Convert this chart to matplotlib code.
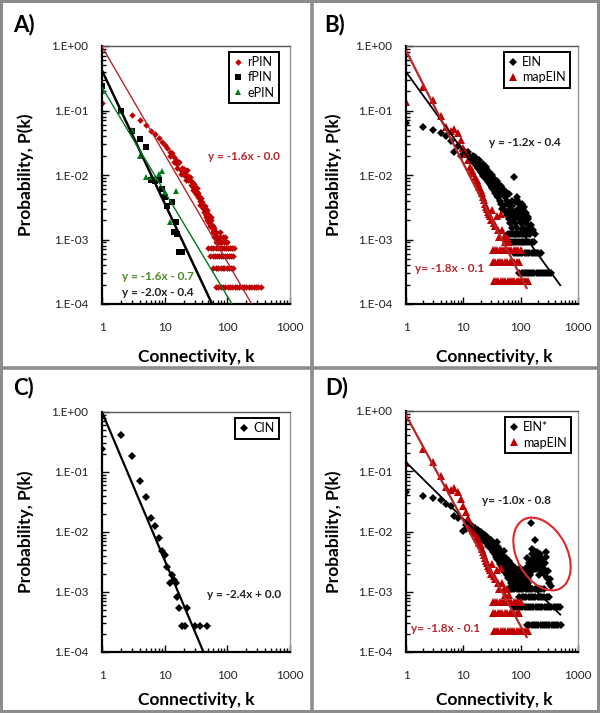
import numpy as np
import matplotlib
matplotlib.use("Agg")
import matplotlib.pyplot as plt
from matplotlib.patches import Ellipse
from matplotlib.lines import Line2D
from matplotlib.transforms import Affine2D
from matplotlib.ticker import FuncFormatter, LogLocator, NullFormatter

plt.rcParams['font.family'] = ['Lato', 'DejaVu Sans']

# ---- panel A : rPIN / fPIN / ePIN ----
k_rpin = [1, 3, 4, 5, 6, 7, 8, 9, 10, 11, 12, 13, 14, 15, 16, 17, 18, 19, 20, 21,
          22, 23, 24, 25, 26, 27, 28, 29, 30, 31, 32, 33, 34, 35, 36, 37, 38, 39, 40, 42,
          43, 44, 46, 47, 48, 50, 52, 53, 55, 57, 58, 60, 62, 64, 66, 68, 70, 72, 75, 78,
          12, 14, 16, 18, 20, 22, 24, 26, 28, 30, 32, 34, 36, 38, 41, 44, 45, 49, 51, 54,
          56, 59, 61, 63, 65, 67, 69, 71, 73, 76, 80, 84, 88, 92, 96, 100,
          50, 55, 60, 65, 70, 76, 82, 88, 95, 103, 110, 118, 128,
          52, 58, 63, 68, 74, 80, 86, 93, 100, 108, 115, 122,
          60, 66, 72, 78, 84, 90, 97, 105, 113, 122,
          66, 72, 79, 86, 93, 101, 110, 120, 131, 143, 156, 170, 185, 202, 220, 240, 262,
          286, 312, 340]
p_rpin = [0.13, 0.085, 0.071, 0.060, 0.048, 0.043, 0.038, 0.033, 0.029, 0.026, 0.023,
          0.022, 0.019, 0.017, 0.015, 0.016, 0.012, 0.013, 0.010, 0.011, 0.0095, 0.012,
          0.0085, 0.0092, 0.0070, 0.0078, 0.0065, 0.0072, 0.0055, 0.0060, 0.0050, 0.0062,
          0.0045, 0.0047, 0.0040, 0.0042, 0.0036, 0.0033, 0.0038, 0.0030, 0.0027, 0.0033,
          0.0024, 0.0029, 0.0020, 0.0025, 0.0018, 0.0016, 0.0020, 0.0015, 0.0013, 0.0016,
          0.0011, 0.0013, 0.00091, 0.0011, 0.00091, 0.00091, 0.0011, 0.00091,
          0.020, 0.016, 0.013, 0.0105, 0.0125, 0.0085, 0.0098, 0.0082, 0.0058, 0.0066,
          0.0056, 0.0052, 0.0034, 0.0044, 0.0031, 0.0027, 0.0022, 0.0023, 0.0018, 0.0022,
          0.0016, 0.0013, 0.0015, 0.0011, 0.0013, 0.0011, 0.00091, 0.0011, 0.00091, 0.0013,
          0.00091, 0.0011, 0.00091, 0.0011, 0.00091, 0.00091,
          0.00073, 0.00073, 0.00073, 0.00073, 0.00073, 0.00073, 0.00073, 0.00073, 0.00073,
          0.00073, 0.00073, 0.00073, 0.00073,
          0.00055, 0.00055, 0.00055, 0.00055, 0.00055, 0.00055, 0.00055, 0.00055, 0.00055,
          0.00055, 0.00055, 0.00055,
          0.00036, 0.00036, 0.00036, 0.00036, 0.00036, 0.00036, 0.00036, 0.00036, 0.00036,
          0.00036,
          0.000182, 0.000182, 0.000182, 0.000182, 0.000182, 0.000182, 0.000182, 0.000182,
          0.000182, 0.000182, 0.000182, 0.000182, 0.000182, 0.000182, 0.000182, 0.000182,
          0.000182, 0.000182, 0.000182, 0.000182]

k_fpin = [1, 2, 3, 4, 5, 6, 7, 8, 9, 10, 11, 13, 14, 15, 16, 17, 19]
p_fpin = [0.24, 0.10, 0.048, 0.036, 0.027, 0.0085, 0.0082, 0.0085, 0.0060, 0.0045,
          0.0033, 0.0038, 0.0013, 0.0019, 0.0012, 0.00063, 0.00063]

k_epin = [1, 2, 3, 4, 5, 6, 7, 8, 9, 10, 12, 15]
p_epin = [0.20, 0.10, 0.049, 0.020, 0.0093, 0.0093, 0.0090, 0.0105, 0.0115, 0.0055,
          0.0019, 0.0056]

# ---- panels B and D : mapEIN (same data in both) ----
k_map = [1, 2, 3, 4, 5, 6, 7, 8, 9, 10, 11, 12, 13, 14, 15, 16, 17, 18, 19, 20, 21, 22,
         23, 24, 25, 26, 27, 28, 29, 30, 32, 34, 36, 38, 40, 42, 45, 48, 51, 54, 58, 62,
         33, 36, 39, 43, 47, 52, 57, 62, 68, 75, 82, 90, 100,
         33, 36, 40, 44, 48, 53, 58, 64, 70, 77, 85, 93,
         34, 37, 41, 45, 49, 54, 59, 65, 71, 78, 86, 94, 103, 113, 124, 136]
p_map = [0.137, 0.23, 0.145, 0.082, 0.055, 0.048, 0.052, 0.045, 0.035, 0.026, 0.021,
         0.017, 0.0135, 0.012, 0.0106, 0.0093, 0.0085, 0.0074, 0.0065, 0.0059, 0.0052,
         0.0045, 0.0041, 0.0036, 0.0032, 0.0030, 0.0027, 0.0025, 0.0023, 0.0020, 0.0029,
         0.0018, 0.0016, 0.0023, 0.0014, 0.0011, 0.0025, 0.0014, 0.0011, 0.0009, 0.0011,
         0.0009,
         0.00068, 0.00068, 0.00068, 0.00068, 0.00068, 0.00068, 0.00068, 0.00068, 0.00068,
         0.00068, 0.00068, 0.00068, 0.00068,
         0.00045, 0.00045, 0.00045, 0.00045, 0.00045, 0.00045, 0.00045, 0.00045, 0.00045,
         0.00045, 0.00045, 0.00045,
         0.000227, 0.000227, 0.000227, 0.000227, 0.000227, 0.000227, 0.000227, 0.000227,
         0.000227, 0.000227, 0.000227, 0.000227, 0.000227, 0.000227, 0.000227, 0.000227]

# ---- panel B : EIN ----
k_ein = [1, 2, 3, 4, 5, 6, 7, 8, 9, 10, 11, 12, 13, 14, 15, 16, 17, 18, 19, 20, 21, 22,
         23, 24, 25, 26, 27, 28, 29, 30, 31, 32, 33, 34, 35, 36, 37, 38, 39, 40, 42, 43,
         44, 46, 47, 48, 50, 52, 53, 55, 57, 58, 60, 62, 64, 66, 68, 70, 72, 74, 76, 77,
         79, 80, 82, 84, 86, 88, 90, 92, 94, 96, 98, 100, 102, 105, 108, 110, 113, 116,
         120, 124, 128, 133, 140, 146,
         16, 19, 22, 26, 28, 32, 36, 41, 45, 48, 55, 62, 70, 85, 105, 115, 125, 135, 150,
         165, 180,
         60, 65, 70, 76, 83, 90, 100, 110, 125, 135,
         66, 72, 78, 84, 90, 97, 104, 112, 120, 130, 140, 155, 170,
         75, 82, 90, 98, 107, 117, 128, 140, 155, 170, 185, 200, 225,
         95, 104, 113, 123, 134, 146, 159, 173, 189, 206, 225, 245, 267, 291, 318, 335]
p_ein = [0.063, 0.056, 0.050, 0.044, 0.040, 0.034, 0.023, 0.028, 0.020, 0.024, 0.022,
         0.023, 0.019, 0.017, 0.020, 0.015, 0.016, 0.013, 0.014, 0.011, 0.013, 0.0095,
         0.012, 0.010, 0.0135, 0.0088, 0.011, 0.0078, 0.0098, 0.0070, 0.0085, 0.0062,
         0.0090, 0.0058, 0.0075, 0.0052, 0.0068, 0.0048, 0.0080, 0.0045, 0.0060, 0.0040,
         0.0055, 0.0036, 0.0050, 0.0030, 0.0059, 0.0033, 0.0045, 0.0027, 0.0040, 0.0024,
         0.0036, 0.0021, 0.0030, 0.0018, 0.0025, 0.0015, 0.0033, 0.0021, 0.0094, 0.0027,
         0.0012, 0.0018, 0.0038, 0.0024, 0.0015, 0.0041, 0.0030, 0.0012, 0.0021, 0.0036,
         0.0027, 0.0018, 0.0033, 0.0024, 0.0015, 0.0029, 0.0021, 0.0012, 0.0024, 0.0018,
         0.0014, 0.0021, 0.0015, 0.0012,
         0.019, 0.017, 0.015, 0.012, 0.011, 0.010, 0.0085, 0.0072, 0.0068, 0.0062, 0.0055,
         0.0050, 0.0040, 0.0045, 0.0035, 0.0032, 0.0026, 0.0022, 0.0017, 0.0014, 0.0012,
         0.0012, 0.0012, 0.0012, 0.0012, 0.0012, 0.0012, 0.0012, 0.0012, 0.0012, 0.0012,
         0.00091, 0.00091, 0.00091, 0.00091, 0.00091, 0.00091, 0.00091, 0.00091, 0.00091,
         0.00091, 0.00091, 0.00091, 0.00091,
         0.00061, 0.00061, 0.00061, 0.00061, 0.00061, 0.00061, 0.00061, 0.00061, 0.00061,
         0.00061, 0.00061, 0.00061, 0.00061,
         0.0003, 0.0003, 0.0003, 0.0003, 0.0003, 0.0003, 0.0003, 0.0003, 0.0003, 0.0003,
         0.0003, 0.0003, 0.0003, 0.0003, 0.0003, 0.0003]

# ---- panel C : CIN ----
k_cin = [1, 2, 3, 4, 5, 6, 7, 8, 9, 10, 11, 12, 13, 14, 15, 16, 17, 19, 21, 23, 30, 36, 47]
p_cin = [0.245, 0.42, 0.185, 0.072, 0.038, 0.017, 0.0126, 0.0078, 0.0048, 0.0041,
         0.0026, 0.0014, 0.0019, 0.0016, 0.0014, 0.00081, 0.00055, 0.00027, 0.00027,
         0.00055, 0.00027, 0.00027, 0.00027]

# ---- panel D : EIN* ----
k_ein2 = [1, 2, 3, 4, 5, 6, 7, 8, 10, 11, 12, 13, 14, 15, 16, 17, 18, 19, 20, 21, 22, 23,
          24, 25, 26, 27, 28, 29, 30, 31, 32, 33, 34, 35, 36, 37, 38, 39, 40, 42, 43, 44,
          46, 47, 48, 50, 52, 53, 55, 57, 58, 60, 62, 64, 66, 68, 70, 72, 74, 76, 79, 82,
          85, 88, 91, 95, 98, 102, 106, 110, 115, 120, 125, 130, 135, 140, 145, 150, 155,
          160, 165, 172, 178, 185, 190, 195, 200, 210, 218, 225, 235, 245, 260, 275, 290,
          310, 340,
          11, 13, 15, 17, 19, 21, 23, 25, 27, 29, 31, 33, 35, 37, 39, 41, 43, 45, 47, 49,
          51, 54, 56, 59, 61, 63, 65, 67, 69, 71, 73, 75, 78, 81, 84, 87, 90, 93, 97, 100,
          104, 108, 112, 117, 122, 127, 132, 137, 143, 148, 153, 158, 163, 168, 175, 182,
          188, 198, 205, 215, 228, 240, 252, 268, 282, 300, 320,
          60, 66, 72, 78, 85, 93, 102, 112, 122, 134, 146, 160, 175, 192, 210, 230, 252,
          95, 104, 114, 125, 137, 150, 164, 180, 197, 216, 236, 258, 283, 310,
          75, 82, 90, 98, 107, 117, 128, 140, 153, 167, 183, 200, 220, 240, 262, 287, 314,
          343, 375, 410, 450, 490,
          130, 142, 155, 170, 186, 203, 222, 243, 266, 291, 318, 348, 380, 415, 455, 500]
p_ein2 = [0.045, 0.039, 0.036, 0.033, 0.029, 0.026, 0.018, 0.0166, 0.0102, 0.013, 0.0145,
          0.011, 0.0125, 0.0095, 0.0115, 0.0088, 0.0105, 0.0082, 0.0098, 0.0075, 0.0092,
          0.0070, 0.0086, 0.0066, 0.0080, 0.0058, 0.0075, 0.0055, 0.0072, 0.0050, 0.0068,
          0.0046, 0.0063, 0.0042, 0.0060, 0.0038, 0.0066, 0.0035, 0.0055, 0.0032, 0.0050,
          0.0029, 0.0045, 0.0026, 0.0040, 0.0023, 0.0047, 0.0021, 0.0036, 0.0019, 0.0030,
          0.0017, 0.0033, 0.0016, 0.0025, 0.0014, 0.0028, 0.0013, 0.0022, 0.0017, 0.0025,
          0.0014, 0.0019, 0.0022, 0.0014, 0.0017, 0.0025, 0.0014, 0.0020, 0.0017, 0.0021,
          0.0014, 0.0025, 0.0037, 0.0017, 0.0030, 0.0022, 0.0136, 0.0042, 0.0051, 0.0028,
          0.0036, 0.0072, 0.0031, 0.0045, 0.0040, 0.0025, 0.0019, 0.0034, 0.0031, 0.0022,
          0.0028, 0.0024, 0.0046, 0.0017, 0.0014, 0.00125,
          0.0108, 0.0125, 0.0105, 0.0098, 0.0090, 0.0085, 0.0079, 0.0072, 0.0068, 0.0063,
          0.0060, 0.0055, 0.0053, 0.0048, 0.0046, 0.0043, 0.0039, 0.0036, 0.0033, 0.0031,
          0.0029, 0.0027, 0.0025, 0.0023, 0.0021, 0.0027, 0.0019, 0.0022, 0.0018, 0.0020,
          0.0016, 0.0019, 0.0015, 0.0018, 0.0013, 0.0016, 0.0018, 0.0013, 0.0015, 0.0012,
          0.0016, 0.0013, 0.0015, 0.0012, 0.0016, 0.0019, 0.0014, 0.0025, 0.0019, 0.0033,
          0.0027, 0.0022, 0.0035, 0.0047, 0.0029, 0.0041, 0.0024, 0.0036, 0.0028, 0.0042,
          0.0026, 0.0035, 0.0020, 0.0030, 0.0038, 0.0022, 0.0016,
          0.0011, 0.0011, 0.0011, 0.0011, 0.0011, 0.0011, 0.0011, 0.0011, 0.0011, 0.0011,
          0.0011, 0.0011, 0.0011, 0.0011, 0.0011, 0.0011, 0.0011,
          0.00083, 0.00083, 0.00083, 0.00083, 0.00083, 0.00083, 0.00083, 0.00083, 0.00083,
          0.00083, 0.00083, 0.00083, 0.00083, 0.00083,
          0.00056, 0.00056, 0.00056, 0.00056, 0.00056, 0.00056, 0.00056, 0.00056, 0.00056,
          0.00056, 0.00056, 0.00056, 0.00056, 0.00056, 0.00056, 0.00056, 0.00056, 0.00056,
          0.00056, 0.00056, 0.00056, 0.00056,
          0.00028, 0.00028, 0.00028, 0.00028, 0.00028, 0.00028, 0.00028, 0.00028, 0.00028,
          0.00028, 0.00028, 0.00028, 0.00028, 0.00028, 0.00028, 0.00028]

# power-law trend lines: log10 P = slope * log10 k + intercept, drawn from k=1 to k_end
fit_rpin = (-1.67, -0.01, 1000)
fit_fpin = (-2.06, -0.38, 1000)
fit_epin = (-1.62, -0.64, 1000)
fit_ein = (-1.23, -0.40, 490)
fit_map = (-1.75, -0.07, 127)
fit_cin = (-2.47, 0.0, 100)
fit_ein2 = (-0.94, -0.85, 490)

RED = '#c00000'
RED_LINE = '#b3262a'
GREEN = '#007a1a'
GREEN_TXT = '#4b8b25'

W, H = 600, 713
fig = plt.figure(figsize=(W / 100, H / 100), dpi=100)


def make_ax(l, t, r, b):
    ax = fig.add_axes([l / W, 1 - b / H, (r - l) / W, (b - t) / H])
    ax.set_xscale('log')
    ax.set_yscale('log')
    ax.set_xlim(1, 1000)
    ax.set_ylim(1e-4, 1)
    ax.xaxis.set_major_locator(LogLocator(base=10, numticks=10))
    ax.xaxis.set_minor_locator(LogLocator(base=10, subs=np.arange(2, 10), numticks=10))
    ax.yaxis.set_major_locator(LogLocator(base=10, numticks=10))
    ax.yaxis.set_minor_locator(LogLocator(base=10, subs=np.arange(2, 10), numticks=10))
    ax.xaxis.set_major_formatter(FuncFormatter(lambda v, p: f"{v:g}"))
    ax.yaxis.set_major_formatter(
        FuncFormatter(lambda v, p: "1.E" + f"{int(round(np.log10(v))):+03d}"))
    ax.xaxis.set_minor_formatter(NullFormatter())
    ax.yaxis.set_minor_formatter(NullFormatter())
    ax.tick_params(which='both', direction='in', width=1, color='black',
                   top=False, right=False, labelsize=8.5, labelcolor='#222222')
    ax.tick_params(which='major', length=5)
    ax.tick_params(which='minor', length=3)
    ax.tick_params(axis='x', pad=13)
    ax.tick_params(axis='y', pad=10)
    for s in ['left', 'bottom']:
        ax.spines[s].set_linewidth(1.6)
        ax.spines[s].set_color('black')
    ax.spines['top'].set_color('#555555')
    ax.spines['top'].set_linewidth(1.0)
    ax.spines['right'].set_color('#999999')
    ax.spines['right'].set_linewidth(1.0)
    return ax, (r - l, b - t)


def trend(ax, fit, color, lw):
    slope, icpt, kend = fit
    kk = np.array([1.0, kend])
    ax.plot(kk, 10 ** (icpt + slope * np.log10(kk)), color=color, lw=lw, zorder=3)


def legend(ax, anchor):
    leg = ax.legend(loc='upper right', bbox_to_anchor=anchor, frameon=True,
                    fancybox=False, edgecolor='black', framealpha=1, fontsize=9,
                    handlelength=0.7, handletextpad=0.4, borderpad=0.35,
                    labelspacing=0.25, borderaxespad=0)
    leg.get_frame().set_linewidth(1.4)


def ftxt(x, y, s, **kw):
    fig.text(x / W, 1 - y / H, s, **kw)


# ---- A ----
axA, _ = make_ax(102, 46, 290, 304)
axA.plot(k_rpin, p_rpin, 'D', color=RED, ms=3.3, mew=0, label='rPIN', zorder=2)
axA.plot(k_fpin, p_fpin, 's', color='black', ms=5, mew=0, label='fPIN', zorder=2)
axA.plot(k_epin, p_epin, '^', color=GREEN, ms=5, mew=0, label='ePIN', zorder=2)
trend(axA, fit_rpin, RED_LINE, 1.0)
trend(axA, fit_fpin, 'black', 1.8)
trend(axA, fit_epin, GREEN, 1.0)
legend(axA, (0.94, 0.977))

# ---- B ----
axB, _ = make_ax(406, 46, 578, 304)
axB.plot(k_ein, p_ein, 'D', color='black', ms=3.6, mew=0, label='EIN', zorder=2)
axB.plot(k_map, p_map, '^', color=RED, ms=5.2, mew=0, label='mapEIN', zorder=2)
trend(axB, fit_ein, 'black', 1.3)
trend(axB, fit_map, RED_LINE, 1.6)
legend(axB, (0.955, 0.977))

# ---- C ----
axC, _ = make_ax(102, 412, 290, 652)
axC.plot(k_cin, p_cin, 'D', color='black', ms=3.6, mew=0, label='CIN', zorder=2)
trend(axC, fit_cin, 'black', 1.6)
legend(axC, (0.94, 0.975))

# ---- D ----
axD, (dw, dh) = make_ax(406, 411, 578, 652)
axD.plot(k_ein2, p_ein2, 'D', color='black', ms=3.6, mew=0, label='EIN*', zorder=2)
axD.plot(k_map, p_map, '^', color=RED, ms=5.2, mew=0, label='mapEIN', zorder=2)
trend(axD, fit_ein2, 'black', 1.3)
trend(axD, fit_map, RED_LINE, 1.6)
legend(axD, (0.96, 0.975))
ell = Ellipse((136, 98), width=78, height=50, angle=-62, fill=False,
              edgecolor='#e0262a', lw=1.5,
              transform=Affine2D().scale(1 / dw, 1 / dh) + axD.transAxes, zorder=5)
axD.add_patch(ell)

# ---- text ----
bold = dict(fontweight='bold')
for x, y, s in [(13, 25, 'A)'), (324, 25, 'B)'), (13, 388, 'C)'), (325, 388, 'D)')]:
    ftxt(x, y, s, ha='left', va='center', fontsize=16, **bold)
for x, y in [(26, 175), (334, 175), (26, 532), (334, 532)]:
    ftxt(x, y, 'Probability, P(k)', rotation=90, ha='center', va='center',
         fontsize=12.5, **bold)
for x, y in [(196, 357), (494, 357), (196, 700), (494, 700)]:
    ftxt(x, y, 'Connectivity, k', ha='center', va='center', fontsize=12.5, **bold)

eq = dict(ha='center', va='center', fontsize=8.5, fontweight='bold')
ftxt(244, 156, 'y = -1.6x - 0.0', color=RED_LINE, **eq)
ftxt(158, 277, 'y = -1.6x - 0.7', color=GREEN_TXT, **eq)
ftxt(158, 293, 'y = -2.0x - 0.4', color='#222222', **eq)
ftxt(525, 143, 'y = -1.2x - 0.4', color='#222222', **eq)
ftxt(450, 268, 'y= -1.8x - 0.1', color=RED_LINE, **eq)
ftxt(244, 594, 'y = -2.4x + 0.0', color='#222222', **eq)
ftxt(517, 501, 'y= -1.0x - 0.8', color='#222222', **eq)
ftxt(446, 629, 'y= -1.8x - 0.1', color=RED_LINE, **eq)

# ---- panel frames ----
fc = '#8c8c8c'
for xs, ys, lw in [([1, 1], [0, H], 2.2), ([W - 2, W - 2], [0, H], 2.2),
                   ([0, W], [1, 1], 2.2), ([0, W], [H - 2, H - 2], 2.2),
                   ([312, 312], [0, H], 2.6), ([0, W], [368, 368], 2.6)]:
    fig.add_artist(Line2D([x / W for x in xs], [1 - y / H for y in ys],
                          color=fc, lw=lw, transform=fig.transFigure))

fig.savefig('out.png', dpi=100)
